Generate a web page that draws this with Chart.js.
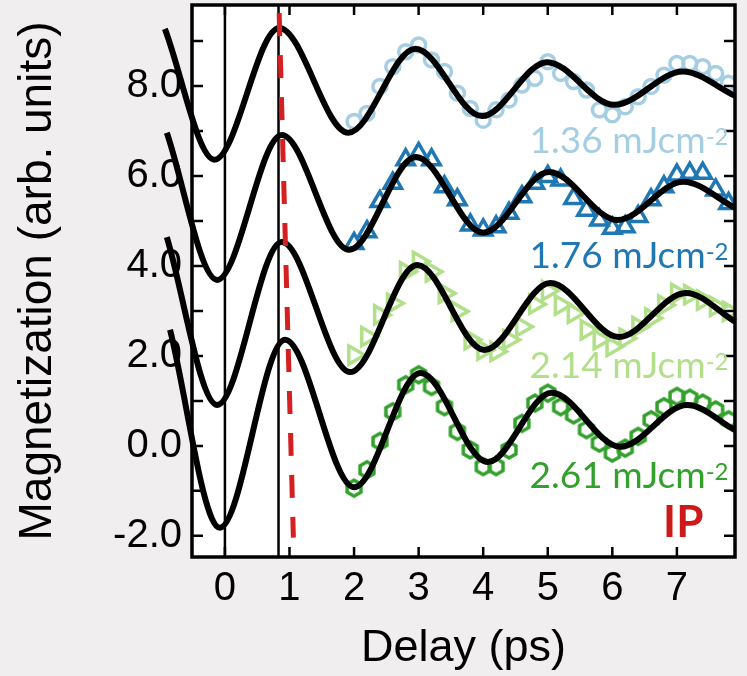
<!DOCTYPE html>
<html>
<head>
<meta charset="utf-8">
<script src="https://cdn.jsdelivr.net/npm/chart.js@4"></script>
<style>
  html, body { margin: 0; padding: 0; background: #f0eeef; }
</style>
</head>
<body>
<canvas id="chart" width="747" height="676"></canvas>
<script>
// delay points of the measured data (ps)
const delayPts = [2.0, 2.2, 2.4, 2.6, 2.8, 3.0, 3.2, 3.4, 3.6, 3.8,
                  4.0, 4.2, 4.4, 4.6, 4.8, 5.0, 5.2, 5.4, 5.6, 5.8,
                  6.0, 6.2, 6.4, 6.6, 6.8, 7.0, 7.2, 7.4, 7.6, 7.8];

// measured magnetization, one list per fluence (offset stacks)
const mag136 = [7.21, 7.39, 7.99, 8.43, 8.76, 8.91, 8.58, 8.32, 7.84, 7.50,
                7.24, 7.47, 7.69, 8.02, 8.17, 8.54, 8.28, 8.10, 7.91, 7.47,
                7.36, 7.54, 7.76, 7.99, 8.24, 8.50, 8.50, 8.43, 8.28, 8.06];
const mag176 = [4.50, 4.76, 5.43, 5.84, 6.36, 6.50, 6.36, 5.76, 5.47, 4.91,
                4.80, 4.87, 5.17, 5.54, 5.84, 5.99, 5.91, 5.50, 5.24, 5.02,
                4.84, 4.87, 5.10, 5.47, 5.76, 6.02, 6.06, 6.06, 5.69, 5.39];
const mag214 = [2.02, 2.43, 2.91, 3.17, 3.87, 4.10, 3.87, 3.39, 2.99, 2.36,
                2.13, 2.10, 2.36, 2.65, 3.15, 3.45, 3.13, 2.95, 2.58, 2.36,
                2.21, 2.39, 2.65, 2.84, 3.13, 3.39, 3.36, 3.24, 3.10, 2.99];
const mag261 = [-0.94, -0.53, 0.10, 0.76, 1.36, 1.58, 1.32, 0.87, 0.32, -0.09,
                -0.46, -0.46, -0.09, 0.50, 0.95, 1.17, 0.87, 0.69, 0.36, 0.06,
                -0.16, -0.05, 0.21, 0.58, 0.87, 1.10, 1.06, 0.95, 0.80, 0.58];

// fitted curves: turning points
const fitX136 = [-0.93, -0.16, 0.84, 1.91, 2.95, 3.98, 4.99, 6.03, 7.09, 7.9];
const fitY136 = [9.27, 6.36, 9.29, 6.96, 8.83, 7.33, 8.53, 7.58, 8.32, 7.78];
const fitX176 = [-0.9, -0.12, 0.88, 1.92, 2.96, 4.0, 5.02, 6.08, 7.1, 7.9];
const fitY176 = [6.96, 3.69, 6.91, 4.36, 6.42, 4.74, 6.09, 5.02, 5.87, 5.29];
const fitX214 = [-0.9, -0.12, 0.88, 1.94, 2.98, 4.02, 5.04, 6.1, 7.14, 7.9];
const fitY214 = [4.64, 0.91, 4.53, 1.64, 4.02, 2.13, 3.62, 2.42, 3.4, 2.76];
const fitX261 = [-0.85, -0.08, 0.93, 2.0, 3.03, 4.07, 5.06, 6.12, 7.16, 7.9];
const fitY261 = [2.58, -1.82, 2.36, -0.92, 1.62, -0.36, 1.18, -0.02, 0.91, 0.35];

const fluences = ["1.36", "1.76", "2.14", "2.61"];
const colors = ["#a6cee3", "#1f78b4", "#b2df8a", "#33a02c"];

// reference lines
const ipLineX = [0.84, 1.06];
const ipLineY = [9.62, -2.04];
const zeroLineX = 0;
const peakLineX = 0.83;

const xMin = -0.51, xMax = 7.9;
const yMin = -2.47, yMax = 9.8;

const pts = (xs, ys) => xs.map((x, i) => ({x: x, y: ys[i]}));

// open hexagon marker
const hex = document.createElement('canvas');
hex.width = 24; hex.height = 24;
(function () {
    const g = hex.getContext('2d');
    g.strokeStyle = colors[3];
    g.lineWidth = 3.5;
    g.beginPath();
    for (let k = 0; k < 6; k++) {
        const a = Math.PI / 2 + k * Math.PI / 3;
        const px = 12 + 8 * Math.cos(a), py = 12 - 8 * Math.sin(a);
        k ? g.lineTo(px, py) : g.moveTo(px, py);
    }
    g.closePath();
    g.stroke();
})();

function fitSet(xs, ys) {
    return {
        data: pts(xs, ys), showLine: true, borderColor: '#000', borderWidth: 6,
        pointRadius: 0, cubicInterpolationMode: 'monotone', clip: false
    };
}

function markSet(ys, i, style, r, rot) {
    return {
        data: pts(delayPts, ys), showLine: false, pointStyle: style,
        pointRadius: r, pointRotation: rot || 0, pointBorderWidth: 3.5,
        pointBorderColor: colors[i], pointBackgroundColor: 'rgba(0,0,0,0)'
    };
}

const frame = {
    id: 'frame',
    beforeDraw(c) {
        const {ctx, chartArea: a} = c;
        ctx.save();
        ctx.fillStyle = '#f0eeef';
        ctx.fillRect(0, 0, c.width, c.height);
        ctx.fillStyle = '#fff';
        ctx.fillRect(a.left, a.top, a.right - a.left, a.bottom - a.top);
        ctx.restore();
    },
    afterDatasetsDraw(c) {
        const {ctx, chartArea: a, scales: {x, y}} = c;
        ctx.save();
        ctx.strokeStyle = '#000';
        ctx.lineWidth = 2.5;
        ctx.beginPath();
        x.ticks.forEach(t => {
            const p = x.getPixelForValue(t.value);
            ctx.moveTo(p, a.bottom); ctx.lineTo(p, a.bottom - 10);
            ctx.moveTo(p, a.top); ctx.lineTo(p, a.top + 10);
        });
        y.ticks.forEach(t => {
            const p = y.getPixelForValue(t.value);
            ctx.moveTo(a.left, p); ctx.lineTo(a.left + 11, p);
            ctx.moveTo(a.right, p); ctx.lineTo(a.right - 11, p);
        });
        ctx.stroke();
        ctx.lineWidth = 3.5;
        ctx.strokeRect(a.left, a.top, a.right - a.left, a.bottom - a.top);

        // fluence labels
        const at = [[7.8, 6.51], [7.8, 3.96], [7.8, 1.51], [7.8, -0.93]];
        ctx.textBaseline = 'alphabetic';
        ctx.textAlign = 'right';
        fluences.forEach((f, i) => {
            const px = x.getPixelForValue(at[i][0]);
            const py = y.getPixelForValue(at[i][1]);
            ctx.fillStyle = colors[i];
            ctx.font = '24px Lato';
            const w = ctx.measureText('-2').width;
            ctx.fillText('-2', px, py - 8);
            ctx.font = '37px Lato';
            ctx.fillText(f + ' mJcm', px - w, py);
        });
        ctx.fillStyle = '#cc1a1a';
        ctx.font = 'bold 44px Lato';
        ctx.fillText('IP', x.getPixelForValue(7.41), y.getPixelForValue(-2.02));
        ctx.restore();
    }
};

Chart.defaults.font.family = "'Liberation Sans', Arial, sans-serif";
Chart.defaults.color = '#000';

new Chart(document.getElementById('chart'), {
    type: 'scatter',
    data: {
        datasets: [
            {data: pts(ipLineX, ipLineY), showLine: true, borderColor: '#d42020', borderWidth: 5,
             borderDash: [23, 19], pointRadius: 0, clip: false},
            fitSet(fitX136, fitY136),
            fitSet(fitX176, fitY176),
            fitSet(fitX214, fitY214),
            fitSet(fitX261, fitY261),
            {data: [{x: zeroLineX, y: yMin}, {x: zeroLineX, y: yMax}], showLine: true,
             borderColor: '#000', borderWidth: 2.5, pointRadius: 0},
            {data: [{x: peakLineX, y: yMin}, {x: peakLineX, y: yMax}], showLine: true,
             borderColor: '#000', borderWidth: 2.5, pointRadius: 0},
            markSet(mag136, 0, 'circle', 7),
            markSet(mag176, 1, 'triangle', 10),
            markSet(mag214, 2, 'triangle', 10.5, 90),
            markSet(mag261, 3, hex, 8)
        ]
    },
    options: {
        responsive: false,
        animation: false,
        events: [],
        layout: {autoPadding: false, padding: {left: 0, top: 5, right: 12, bottom: 0}},
        plugins: {legend: {display: false}, tooltip: {enabled: false}},
        scales: {
            x: {
                type: 'linear', min: xMin, max: xMax,
                grid: {display: false, drawTicks: false},
                border: {display: false},
                ticks: {stepSize: 1, includeBounds: false, autoSkip: false, maxRotation: 0,
                        padding: 8, font: {size: 40}},
                title: {display: true, text: 'Delay (ps)', font: {size: 45}, padding: {top: 0, bottom: 0}},
                afterFit(s) { s.height = 119; s.paddingLeft = 0; s.paddingRight = 0; }
            },
            y: {
                type: 'linear', min: yMin, max: yMax,
                grid: {display: false, drawTicks: false},
                border: {display: false},
                ticks: {stepSize: 1, includeBounds: false, autoSkip: false, padding: 10,
                        font: {size: 40},
                        callback: v => (Math.abs(v % 2) < 1e-6 ? v.toFixed(1) : '')},
                title: {display: true, text: 'Magnetization (arb. units)', font: {size: 46},
                        padding: {top: 11, bottom: 0}},
                afterFit(s) { s.width = 192; s.paddingTop = 0; s.paddingBottom = 0; }
            }
        }
    },
    plugins: [frame]
});
</script>
</body>
</html>
